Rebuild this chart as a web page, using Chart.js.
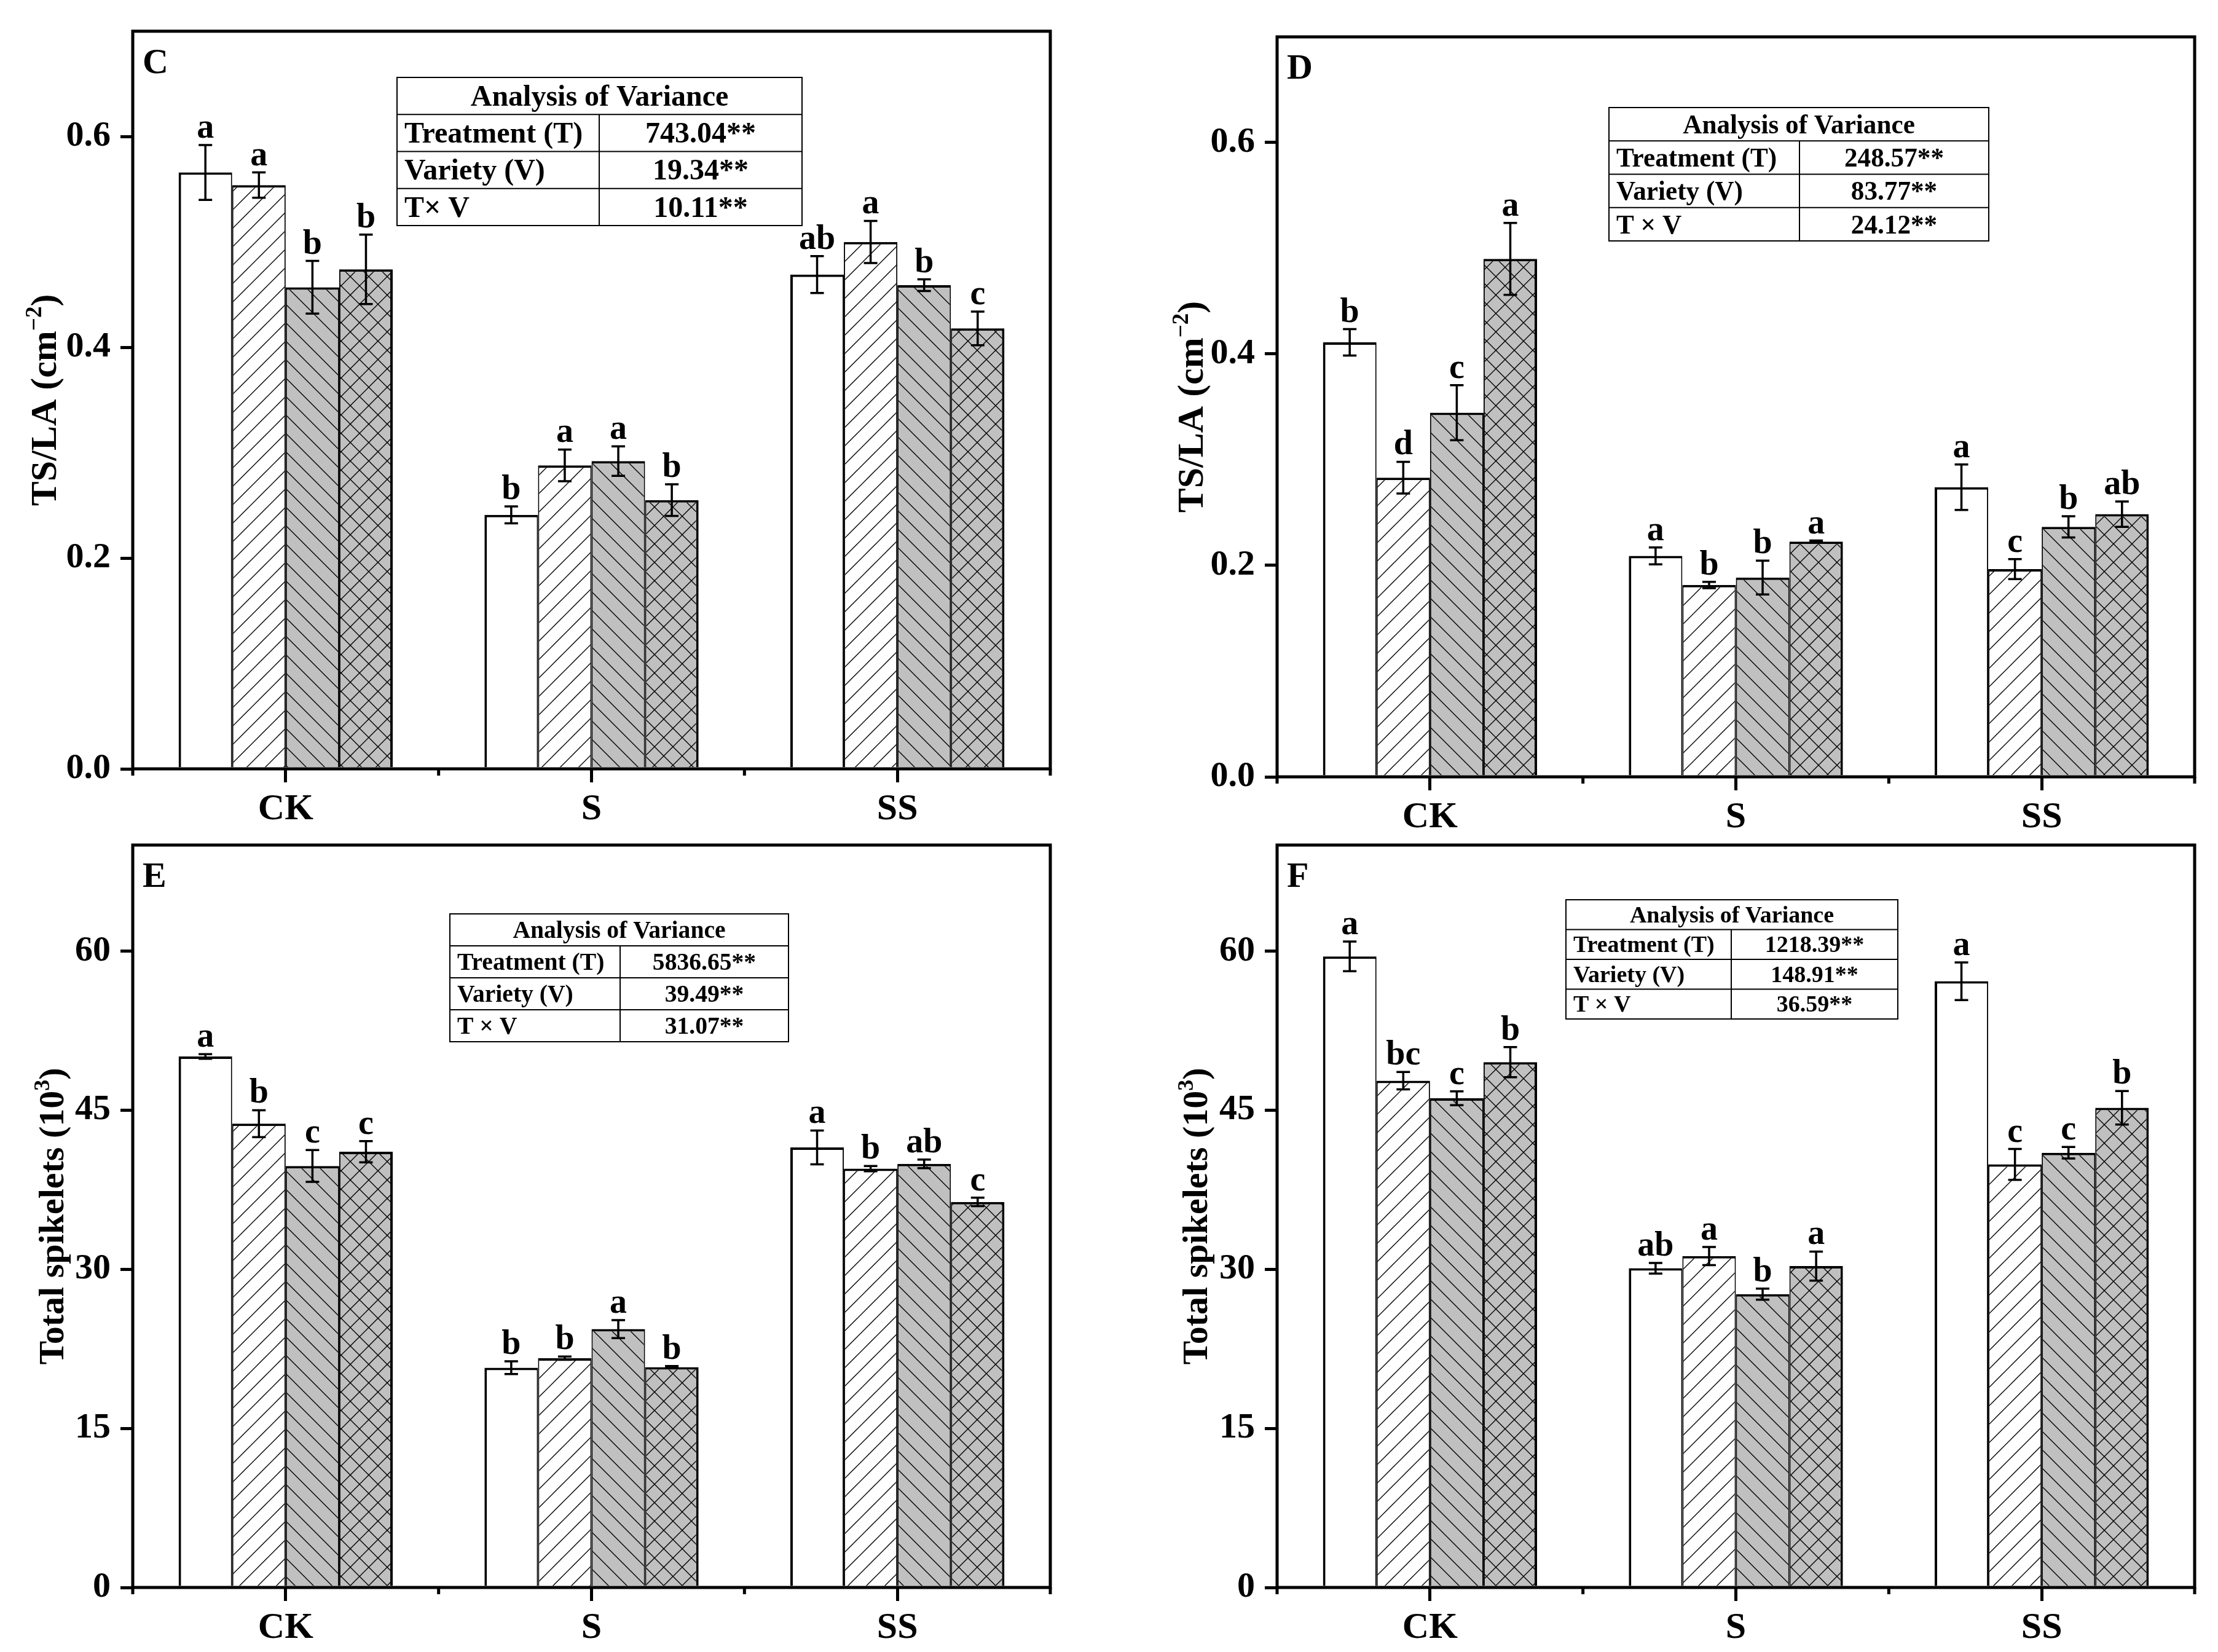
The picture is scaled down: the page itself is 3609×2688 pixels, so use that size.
<!DOCTYPE html>
<html>
<head>
<meta charset="utf-8">
<script src="https://cdn.jsdelivr.net/npm/chart.js@4.4.1/dist/chart.umd.min.js"></script>
<style>
  html, body { margin: 0; padding: 0; background: #fff; }
  #page { position: relative; width: 3609px; height: 2688px; overflow: hidden; background: #fff; }
  #page canvas { position: absolute; }
</style>
</head>
<body>
<div id="page">
  <canvas id="panelC"></canvas>
  <canvas id="panelD"></canvas>
  <canvas id="panelE"></canvas>
  <canvas id="panelF"></canvas>
</div>
<script>
// categories on the x axis
const categories = ['CK', 'S', 'SS'];

// one row per variety (bar 1..4), values for CK, S, SS
// C: TS/LA
const cMeans   = [[0.566, 0.241, 0.469], [0.554, 0.288, 0.500], [0.457, 0.292, 0.459], [0.474, 0.255, 0.418]];
const cErrors  = [[0.026, 0.008, 0.0175], [0.012, 0.015, 0.020], [0.025, 0.014, 0.0055], [0.033, 0.015, 0.016]];
const cLetters = [['a', 'b', 'ab'], ['a', 'a', 'a'], ['b', 'a', 'b'], ['b', 'b', 'c']];
const cAnovaLabels = ['Treatment (T)', 'Variety (V)', 'T\u00d7 V'];
const cAnovaF      = ['743.04**', '19.34**', '10.11**'];

// D: TS/LA
const dMeans   = [[0.411, 0.209, 0.274], [0.283, 0.1815, 0.1965], [0.3445, 0.1885, 0.2365], [0.490, 0.2225, 0.2485]];
const dErrors  = [[0.0125, 0.008, 0.0215], [0.015, 0.003, 0.0095], [0.026, 0.016, 0.010], [0.034, 0.001, 0.012]];
const dLetters = [['b', 'a', 'a'], ['d', 'b', 'c'], ['c', 'b', 'b'], ['a', 'a', 'ab']];
const dAnovaLabels = ['Treatment (T)', 'Variety (V)', 'T \u00d7 V'];
const dAnovaF      = ['248.57**', '83.77**', '24.12**'];

// E: total spikelets (10^3)
const eMeans   = [[50.07, 20.72, 41.49], [43.73, 21.62, 39.49], [39.74, 24.36, 39.94], [41.09, 20.77, 36.35]];
const eErrors  = [[0.22, 0.6, 1.6], [1.27, 0.15, 0.25], [1.5, 0.85, 0.4], [1.0, 0.1, 0.4]];
const eLetters = [['a', 'b', 'a'], ['b', 'b', 'b'], ['c', 'a', 'ab'], ['c', 'b', 'c']];
const eAnovaLabels = ['Treatment (T)', 'Variety (V)', 'T \u00d7 V'];
const eAnovaF      = ['5836.65**', '39.49**', '31.07**'];

// F: total spikelets (10^3)
const fMeans   = [[59.5, 30.1, 57.16], [47.78, 31.25, 39.89], [46.13, 27.66, 40.99], [49.53, 30.3, 45.23]];
const fErrors  = [[1.4, 0.5, 1.77], [0.82, 0.85, 1.45], [0.65, 0.52, 0.55], [1.42, 1.37, 1.58]];
const fLetters = [['a', 'ab', 'a'], ['bc', 'a', 'c'], ['c', 'b', 'c'], ['b', 'a', 'b']];
const fAnovaLabels = ['Treatment (T)', 'Variety (V)', 'T \u00d7 V'];
const fAnovaF      = ['1218.39**', '148.91**', '36.59**'];

const FONT = '"Liberation Serif", "Times New Roman", serif';

// hatch fill for the bars
function hatch(bg, dirs) {
    const s = 30;
    const c = document.createElement('canvas');
    c.width = s; c.height = s;
    const g = c.getContext('2d');
    g.fillStyle = bg;
    g.fillRect(0, 0, s, s);
    if (dirs) {
        g.strokeStyle = '#000';
        g.lineWidth = 1.4;
        g.beginPath();
        if (dirs.includes('/')) {
            g.moveTo(0, s); g.lineTo(s, 0);
            g.moveTo(-2, 2); g.lineTo(2, -2);
            g.moveTo(s - 2, s + 2); g.lineTo(s + 2, s - 2);
        }
        if (dirs.includes('\\')) {
            g.moveTo(0, 0); g.lineTo(s, s);
            g.moveTo(s - 2, -2); g.lineTo(s + 2, 2);
            g.moveTo(-2, s - 2); g.lineTo(2, s + 2);
        }
        g.stroke();
    }
    return g.createPattern(c, 'repeat');
}

const fills = [hatch('#ffffff', ''), hatch('#ffffff', '/'), hatch('#c0c0c0', '\\'), hatch('#c0c0c0', '/\\')];
const borders = [
    { top: 4, left: 4, right: 2, bottom: 0 },
    { top: 4, left: 2, right: 2, bottom: 0 },
    { top: 4, left: 2, right: 2, bottom: 0 },
    { top: 4, left: 2, right: 4, bottom: 0 }
];

const panels = [
    { id: 'panelC', letter: 'C', left: 0, top: 0, width: 1804, height: 1380,
      area: { left: 216, top: 46, right: 1709, bottom: 1251 },
      means: cMeans, errors: cErrors, letters: cLetters,
      yMax: 0.7, yStep: 0.2, decimals: 1,
      yTitle: ['TS/LA (cm', '\u22122', ')'], titleSize: 60, titleOffset: 145,
      anovaLabels: cAnovaLabels, anovaF: cAnovaF,
      table: { x: 646, y: 126, w: 659, h: 241, col: 975, font: 48, squeeze: 1.0 } },
    { id: 'panelD', letter: 'D', left: 1804, top: 0, width: 1805, height: 1380,
      area: { left: 2078, top: 60, right: 3571, bottom: 1264 },
      means: dMeans, errors: dErrors, letters: dLetters,
      yMax: 0.7, yStep: 0.2, decimals: 1,
      yTitle: ['TS/LA (cm', '\u22122', ')'], titleSize: 60, titleOffset: 141,
      anovaLabels: dAnovaLabels, anovaF: dAnovaF,
      table: { x: 2618, y: 175, w: 618, h: 217, col: 2928, font: 45, squeeze: 0.96 } },
    { id: 'panelE', letter: 'E', left: 0, top: 1320, width: 1804, height: 1368,
      area: { left: 216, top: 1375, right: 1709, bottom: 2583 },
      means: eMeans, errors: eErrors, letters: eLetters,
      yMax: 70, yStep: 15, decimals: 0,
      yTitle: ['Total spikelets (10', '3', ')'], titleSize: 58, titleOffset: 132,
      anovaLabels: eAnovaLabels, anovaF: eAnovaF,
      table: { x: 732, y: 1487, w: 551, h: 208, col: 1009, font: 40, squeeze: 0.99 } },
    { id: 'panelF', letter: 'F', left: 1804, top: 1320, width: 1805, height: 1368,
      area: { left: 2078, top: 1375, right: 3571, bottom: 2583 },
      means: fMeans, errors: fErrors, letters: fLetters,
      yMax: 70, yStep: 15, decimals: 0,
      yTitle: ['Total spikelets (10', '3', ')'], titleSize: 58, titleOffset: 133,
      anovaLabels: fAnovaLabels, anovaF: fAnovaF,
      table: { x: 2548, y: 1464, w: 540, h: 194, col: 2817, font: 38, squeeze: 1.0 } }
];

function squeezedText(ctx, text, x, y, align, squeeze) {
    ctx.save();
    ctx.translate(x, y);
    ctx.scale(squeeze, 1);
    ctx.textAlign = align;
    ctx.fillText(text, 0, 0);
    ctx.restore();
}

function makeDecorations(p) {
    return {
        id: 'decor_' + p.id,
        afterDatasetsDraw(chart) {
            const ctx = chart.ctx;
            const y = chart.scales.y;
            ctx.save();
            ctx.strokeStyle = '#000';
            ctx.fillStyle = '#000';
            ctx.lineWidth = 3.5;
            ctx.font = 'bold 56px ' + FONT;
            ctx.textAlign = 'center';
            ctx.textBaseline = 'alphabetic';
            p.means.forEach((row, di) => {
                const meta = chart.getDatasetMeta(di);
                row.forEach((v, i) => {
                    const bx = meta.data[i].x;
                    const e = p.errors[di][i];
                    const yt = y.getPixelForValue(v + e);
                    const yb = y.getPixelForValue(v - e);
                    ctx.beginPath();
                    ctx.moveTo(bx, yt); ctx.lineTo(bx, yb);
                    ctx.moveTo(bx - 11, yt); ctx.lineTo(bx + 11, yt);
                    ctx.moveTo(bx - 11, yb); ctx.lineTo(bx + 11, yb);
                    ctx.stroke();
                    ctx.fillText(p.letters[di][i], bx, yt - 12);
                });
            });
            ctx.restore();
        },
        afterDraw(chart) {
            const ctx = chart.ctx;
            const a = chart.chartArea;
            const xs = chart.scales.x;
            ctx.save();
            ctx.strokeStyle = '#000';
            ctx.fillStyle = '#000';

            // frame
            ctx.lineWidth = 5;
            ctx.strokeRect(a.left, a.top, a.right - a.left, a.bottom - a.top);

            // minor ticks between categories
            ctx.beginPath();
            for (let i = 0; i <= categories.length; i++) {
                const px = xs.left + i * xs.width / categories.length;
                ctx.moveTo(px, a.bottom);
                ctx.lineTo(px, a.bottom + 11);
            }
            ctx.stroke();

            // panel letter
            ctx.font = 'bold 58px ' + FONT;
            ctx.textAlign = 'left';
            ctx.textBaseline = 'alphabetic';
            ctx.fillText(p.letter, a.left + 16, a.top + 68);

            // y axis title with superscript
            const cx = a.left - p.titleOffset;
            const cy = (a.top + a.bottom) / 2;
            const mainFont = 'bold ' + p.titleSize + 'px ' + FONT;
            const supFont = 'bold ' + Math.round(p.titleSize * 0.62) + 'px ' + FONT;
            ctx.font = mainFont;
            const w1 = ctx.measureText(p.yTitle[0]).width;
            const w3 = ctx.measureText(p.yTitle[2]).width;
            ctx.font = supFont;
            const w2 = ctx.measureText(p.yTitle[1]).width;
            const total = w1 + w2 + w3;
            ctx.translate(cx, cy);
            ctx.rotate(-Math.PI / 2);
            const base = p.titleSize * 0.33;
            let x0 = -total / 2;
            ctx.font = mainFont;
            ctx.fillText(p.yTitle[0], x0, base);
            ctx.font = supFont;
            ctx.fillText(p.yTitle[1], x0 + w1, base - p.titleSize * 0.4);
            ctx.font = mainFont;
            ctx.fillText(p.yTitle[2], x0 + w1 + w2, base);
            ctx.setTransform(1, 0, 0, 1, 0, 0);

            // analysis of variance table
            const t = p.table;
            const tx = t.x - p.left, ty = t.y - p.top, tc = t.col - p.left;
            const rh = t.h / 4;
            ctx.lineWidth = 2;
            ctx.fillStyle = '#fff';
            ctx.fillRect(tx, ty, t.w, t.h);
            ctx.fillStyle = '#000';
            ctx.strokeRect(tx, ty, t.w, t.h);
            ctx.beginPath();
            for (let r = 1; r < 4; r++) {
                ctx.moveTo(tx, ty + r * rh);
                ctx.lineTo(tx + t.w, ty + r * rh);
            }
            ctx.moveTo(tc, ty + rh);
            ctx.lineTo(tc, ty + t.h);
            ctx.stroke();
            ctx.font = 'bold ' + t.font + 'px ' + FONT;
            const off = t.font * 0.33;
            squeezedText(ctx, 'Analysis of Variance', tx + t.w / 2, ty + rh / 2 + off, 'center', t.squeeze);
            p.anovaLabels.forEach((lab, r) => {
                const yy = ty + (r + 1.5) * rh + off;
                squeezedText(ctx, lab, tx + 12, yy, 'left', t.squeeze);
                squeezedText(ctx, p.anovaF[r], (tc + tx + t.w) / 2, yy, 'center', t.squeeze);
            });
            ctx.restore();
        }
    };
}

panels.forEach(p => {
    const cv = document.getElementById(p.id);
    cv.width = p.width;
    cv.height = p.height;
    cv.style.left = p.left + 'px';
    cv.style.top = p.top + 'px';
    const xAxisHeight = 95;

    new Chart(cv, {
        type: 'bar',
        data: {
            labels: categories,
            datasets: p.means.map((row, i) => ({
                data: row,
                backgroundColor: fills[i],
                borderColor: '#000',
                borderWidth: borders[i],
                borderSkipped: 'start',
                categoryPercentage: 0.7,
                barPercentage: 1.0
            }))
        },
        options: {
            responsive: false,
            animation: false,
            devicePixelRatio: 1,
            layout: {
                padding: {
                    left: 0,
                    top: p.area.top - p.top,
                    right: p.left + p.width - p.area.right,
                    bottom: p.top + p.height - p.area.bottom - xAxisHeight
                }
            },
            plugins: { legend: { display: false }, tooltip: { enabled: false } },
            scales: {
                x: {
                    ticks: { padding: 8, color: '#000', font: { family: FONT, weight: 'bold', size: 60 } },
                    grid: { offset: false, drawOnChartArea: false, drawTicks: true, tickLength: 22, lineWidth: 5, color: '#000' },
                    border: { display: false },
                    afterFit: s => { s.height = xAxisHeight; }
                },
                y: {
                    min: 0,
                    max: p.yMax,
                    ticks: {
                        stepSize: p.yStep,
                        includeBounds: false,
                        padding: 16,
                        color: '#000',
                        font: { family: FONT, weight: 'bold', size: 58 },
                        callback: v => Number(v).toFixed(p.decimals)
                    },
                    grid: { drawOnChartArea: false, drawTicks: true, tickLength: 20, lineWidth: 5, color: '#000' },
                    border: { display: false },
                    afterFit: s => { s.width = p.area.left - p.left; }
                }
            }
        },
        plugins: [makeDecorations(p)]
    });
});
</script>
</body>
</html>
